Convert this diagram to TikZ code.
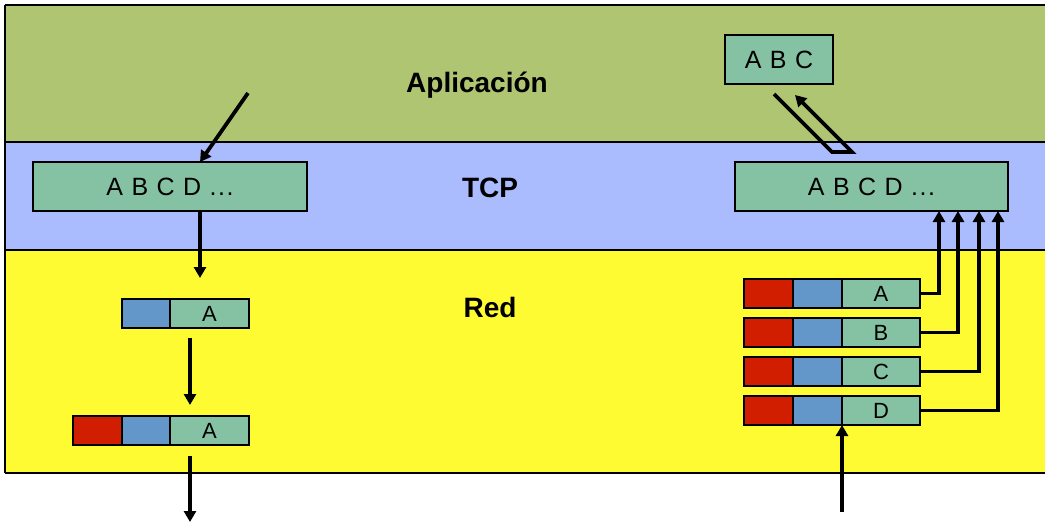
\documentclass[tikz,border=0pt]{standalone}
\usepackage{fontspec}
\setmainfont{Liberation Sans}
\newfontfamily\boxfont[LetterSpace=6]{Liberation Sans}
\usetikzlibrary{arrows.meta,calc}
\definecolor{appc}{RGB}{176,197,114}
\definecolor{tcpc}{RGB}{170,188,254}
\definecolor{redc}{RGB}{255,251,50}
\definecolor{boxg}{RGB}{133,193,163}
\definecolor{pred}{RGB}{210,30,0}
\definecolor{pblue}{RGB}{99,150,201}
\tikzset{
  layerlbl/.style={font=\fontsize{28}{30}\selectfont\bfseries, anchor=base, inner sep=0},
  bigbox/.style={draw, line width=2pt, fill=boxg, minimum height=49pt, inner sep=0, outer sep=0, font=\boxfont\fontsize{25}{27}\selectfont},
  seg/.style={draw, line width=2pt, minimum height=29pt, minimum width=49pt, inner sep=0, outer sep=0, anchor=north west},
  sred/.style={seg, fill=pred},
  sblue/.style={seg, fill=pblue},
  sgreen/.style={seg, fill=boxg, minimum width=78pt, font=\fontsize{22}{24}\selectfont},
  arr/.style={line width=3.8pt, -{Triangle[length=11pt,width=12pt]}},
  conn/.style={line width=3.8pt, -{Triangle[length=11pt,width=12pt]}},
}
\begin{document}
\begin{tikzpicture}[x=1pt,y=-1pt]
\useasboundingbox (0,0) rectangle (1050,525);
% layers
\fill[appc] (5,5) rectangle (1045,142);
\fill[tcpc] (5,142) rectangle (1045,250);
\fill[redc] (5,250) rectangle (1045,473);
\draw[line width=2.5pt] (5,5) -- (1045,5);
\draw[line width=2pt] (5,5) -- (5,473);
\draw[line width=1.5pt] (5,142) -- (1045,142);
\draw[line width=1.5pt] (5,250) -- (1045,250);
\draw[line width=2pt] (5,473) -- (1045,473);
% labels
\node[layerlbl] (lapp) at (477,92) {Aplicación};
\node[layerlbl] (ltcplbl) at (490,197) {TCP};
\node[layerlbl] (lred) at (490,317) {Red};
% left side
\node[bigbox, minimum width=274pt] (ltcp) at (170,186.5) {A B C D ...};
\node[sblue] (p1b) at (122,299) {};
\node[sgreen, minimum width=79pt] (p1g) at (170,299) {A};
\node[sred] (p2r) at (73,416) {};
\node[sblue] (p2b) at (122,416) {};
\node[sgreen, minimum width=79pt] (p2g) at (170,416) {A};
\coordinate (lin) at (248,93);
\coordinate (lout1) at (200,278);
\coordinate (lout2) at (190,522);
\draw[arr] (lin) -- ([xshift=30pt]ltcp.north);
\draw[arr] ([xshift=30pt]ltcp.south) -- (lout1);
\draw[arr] ([xshift=-19.5pt,yshift=-10pt]p1g.south) -- ([xshift=-19.5pt,yshift=11pt]p2g.north);
\draw[arr] ([xshift=-19.5pt,yshift=-11pt]p2g.south) -- (lout2);
% right side
\node[bigbox, minimum width=108pt] (abc) at (779,59.5) {A B C};
\node[bigbox, minimum width=273pt] (rtcp) at (871.5,186.5) {A B C D ...};
\foreach \n/\y/\l in {A/279/A, B/318/B, C/357/C, D/396/D}{
  \node[sred] (r\n r) at (744,\y) {};
  \node[sblue] (r\n b) at (793,\y) {};
  \node[sgreen] (r\n g) at (842,\y) {\l};
}
\draw[line width=3.8pt, -{Triangle[length=11pt,width=12pt]}]
  ([xshift=-5pt,yshift=-10pt]abc.south) -- ++(58,58) -- ++(20,0) -- ([xshift=16pt,yshift=-11pt]abc.south);
\draw[conn] (rAg.east) -| ([xshift=67.5pt]rtcp.south);
\draw[conn] (rBg.east) -| ([xshift=86.5pt]rtcp.south);
\draw[conn] (rCg.east) -| ([xshift=107.5pt]rtcp.south);
\draw[conn] (rDg.east) -| ([xshift=126.5pt]rtcp.south);
\coordinate (rin) at (842,512);
\draw[arr] (rin) -- (rDg.south west);
\end{tikzpicture}
\end{document}
